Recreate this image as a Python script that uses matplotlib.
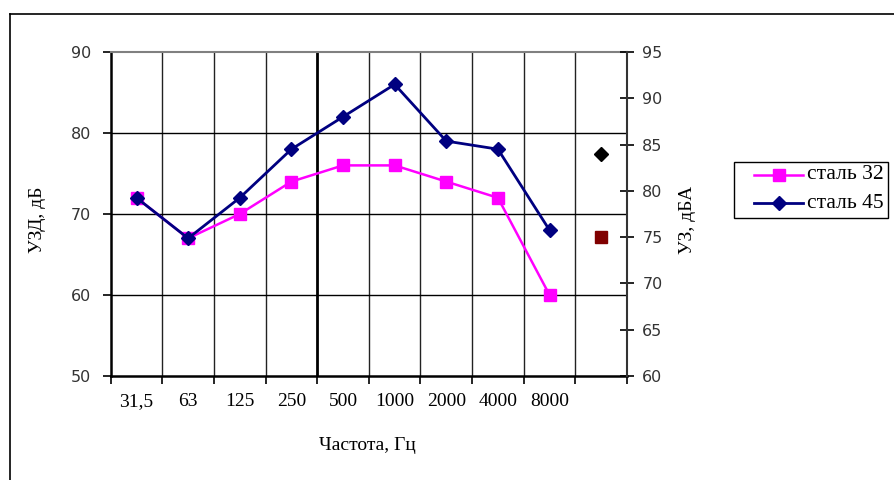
import numpy as np
import matplotlib
matplotlib.use("Agg")
import matplotlib.pyplot as plt
from matplotlib.lines import Line2D
from matplotlib.patches import Rectangle

# Octave-band frequencies (Hz) and a trailing column for the overall level in dBA
freq_labels = ["31,5", "63", "125", "250", "500", "1000", "2000", "4000", "8000", ""]
steel32_db = [72, 67, 70, 74, 76, 76, 74, 72, 60]
steel45_db = [72, 67, 72, 78, 82, 86, 79, 78, 68]
steel45_dba = 84
steel32_dba = 75
series_names = ["сталь 32", "сталь 45"]

W, H = 894, 480
fig = plt.figure(figsize=(W / 100, H / 100), dpi=100)

SERIF = ["Liberation Serif", "DejaVu Serif"]
SANS = ["DejaVu Sans"]


def fx(px):
    return px / W


def fy(py):
    return 1 - py / H


# frame around the chart object
fig.add_artist(Line2D([fx(10), 1.0], [fy(14), fy(14)], transform=fig.transFigure,
                      color="black", lw=1.2))
fig.add_artist(Line2D([fx(10), fx(10)], [0, fy(14)], transform=fig.transFigure,
                      color="black", lw=1.2))

x0, x1, y0, y1 = 110.7, 627.0, 52.0, 376.0
ax = fig.add_axes([fx(x0), fy(y1), (x1 - x0) / W, (y1 - y0) / H])
ax2 = ax.twinx()

n = len(freq_labels)
ax.set_xlim(-0.5, n - 0.5)
ax.set_ylim(50, 90)
ax2.set_ylim(60, 95)

# grid
for k in range(1, n):
    ax.axvline(k - 0.5, color="#222222" if k != 4 else "black",
               lw=1.0 if k != 4 else 2.0, zorder=1)
for v in (60, 70, 80):
    ax.axhline(v, color="black", lw=1.0, zorder=1)

xs = np.arange(len(steel32_db))
mag = "#FF00FF"
navy = "#000080"

ax.plot(xs, steel32_db, color=mag, lw=1.8, marker="s", ms=8, zorder=3)
ax.plot(xs, steel45_db, color=navy, lw=2.0, marker="D", ms=7, zorder=4)

ax2.plot([n - 1], [steel45_dba], ls="none", marker="D", ms=7, color="black", zorder=4)
ax2.plot([n - 1], [steel32_dba], ls="none", marker="s", ms=8, color="#800000", zorder=4)

# spines
for s in ("left", "bottom"):
    ax.spines[s].set_linewidth(1.8)
ax.spines["top"].set_color("#808080")
ax.spines["top"].set_linewidth(1.5)
ax.spines["right"].set_visible(False)
ax2.spines["right"].set_linewidth(1.5)
ax2.spines["right"].set_color("#333333")
for s in ("left", "top", "bottom"):
    ax2.spines[s].set_visible(False)

# x ticks at category boundaries, labels between them
ax.set_xticks(np.arange(n + 1) - 0.5)
ax.set_xticklabels([])
ax.set_xticks(np.arange(n), minor=True)
ax.set_xticklabels(freq_labels, minor=True, fontfamily=SERIF, fontsize=14)
ax.tick_params(axis="x", which="major", direction="out", length=6, width=1.2)
ax.tick_params(axis="x", which="minor", length=0, pad=12)

ax.set_yticks([50, 60, 70, 80, 90])
ax.set_yticklabels(["50", "60", "70", "80", "90"], fontfamily=SANS, fontsize=11.5, color="#333333")
ax.tick_params(axis="y", direction="out", length=6, width=1.2, pad=8)

ax2.set_yticks(np.arange(60, 96, 5))
ax2.set_yticklabels([str(v) for v in range(60, 96, 5)], fontfamily=SANS, fontsize=11.5, color="#333333")
ax2.tick_params(axis="y", direction="inout", length=10, width=1.2, pad=6)

fig.text(fx(38), fy(220), "УЗД, дБ", rotation=90, ha="center", va="center",
         fontfamily=SERIF, fontsize=14)
fig.text(fx(687), fy(220), "УЗ, дБА", rotation=90, ha="center", va="center",
         fontfamily=SERIF, fontsize=14)
fig.text(fx(367), fy(445), "Частота, Гц", ha="center", va="center",
         fontfamily=SERIF, fontsize=14)

# legend box
fig.add_artist(Rectangle((fx(734), fy(218)), (888 - 734) / W, (218 - 162) / H,
                         transform=fig.transFigure, fill=False, edgecolor="black", lw=1.0))
legend_styles = [(mag, "s", 8, 1.8), (navy, "D", 7, 2.0)]
for (col, mk, ms, lw), name, yy in zip(legend_styles, series_names, (175, 203)):
    fig.add_artist(Line2D([fx(754), fx(803)], [fy(yy), fy(yy)], transform=fig.transFigure,
                          color=col, lw=lw))
    fig.add_artist(Line2D([fx(778.5)], [fy(yy)], transform=fig.transFigure, color=col,
                          marker=mk, ms=ms, ls="none"))
    fig.text(fx(807), fy(yy), name, ha="left", va="center", fontfamily=SERIF, fontsize=15.5)

fig.savefig("out.png", dpi=100)
